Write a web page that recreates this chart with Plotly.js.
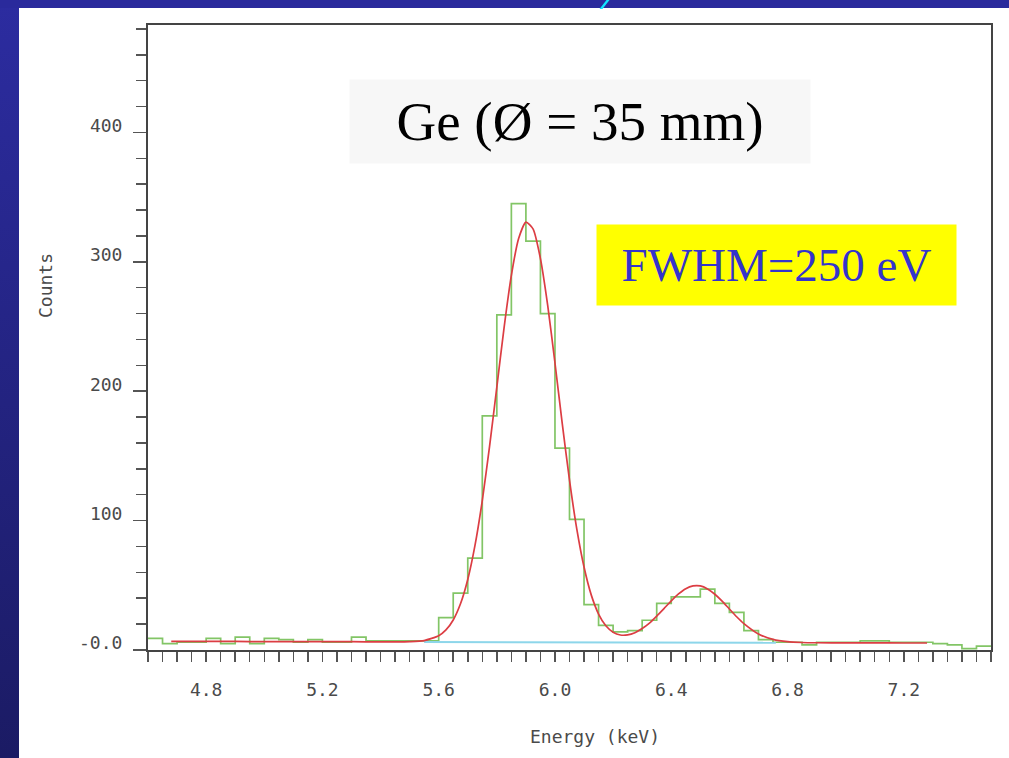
<!DOCTYPE html>
<html>
<head>
<meta charset="utf-8">
<script src="https://cdn.plot.ly/plotly-3.0.1.min.js"></script>
<style>
  body { margin: 0; background: #fff; }
  #chart { position: absolute; left: 0; top: 0; width: 1009px; height: 758px; }
  .band-left { position: absolute; left: 0; top: 0; width: 19px; height: 758px; z-index: 5;
    background: linear-gradient(#2c2ca0, #1b1b64); }
  .band-top { position: absolute; left: 0; top: 0; width: 1009px; height: 8px; z-index: 5; background: #2a2a9c; }
  .cyan-mark { position: absolute; left: 603px; top: 0; width: 3px; height: 9px; z-index: 6;
    background: #12e4ff; transform: skewX(-38deg); }
</style>
</head>
<body>
<div id="chart"></div>
<div class="band-left"></div>
<div class="band-top"></div>
<div class="cyan-mark"></div>
<script>
// histogram: 0.05 keV bins starting at 4.6 keV
const binStart = 4.6
const binWidth = 0.05
const counts = [
  9, 5, 6, 6, 9, 5, 10, 5, 9, 8,
  6, 8, 6, 6, 10, 7, 7, 7, 7, 7,
  25, 44, 71, 181, 259, 345, 316, 260, 156, 101,
  35, 19, 14, 15, 23, 36, 41, 41, 47, 36,
  29, 15, 8, 6, 6, 4, 6, 6, 6, 7,
  7, 6, 6, 6, 5, 4, 1, 3
]

// fitted curve (red)
const fitEnergy = [
  4.68, 4.8, 4.9, 5.0, 5.1, 5.2, 5.3, 5.4, 5.45, 5.5, 5.55, 5.6, 5.625, 5.65, 5.675,
  5.7, 5.725, 5.75, 5.775, 5.8, 5.825, 5.85, 5.875, 5.9, 5.925, 5.95, 5.975, 6.0,
  6.025, 6.05, 6.075, 6.1, 6.125, 6.15, 6.175, 6.2, 6.225, 6.25, 6.275, 6.3, 6.325,
  6.35, 6.375, 6.4, 6.425, 6.45, 6.475, 6.5, 6.525, 6.55, 6.575, 6.6, 6.625, 6.65,
  6.7, 6.75, 6.8, 6.85, 6.9, 7.0, 7.1, 7.2, 7.28
]
const fitCounts = [
  6.7, 6.6, 6.6, 6.5, 6.5, 6.4, 6.4, 6.3, 6.3, 6.5, 7.3, 11.0, 15.5, 23.2, 35.7,
  54.5, 81.0, 115.5, 157.3, 203.2, 249.2, 289.5, 318.0, 330.7, 325.3, 302.5, 266.3, 221.8,
  175.1, 131.2, 93.6, 64.1, 42.4, 27.8, 18.7, 13.7, 11.6, 11.7, 13.4, 16.6, 20.8,
  26.2, 32.0, 38.0, 43.3, 47.4, 49.5, 49.5, 47.2, 43.1, 37.8, 31.7, 25.7, 20.4,
  12.4, 8.2, 6.4, 5.8, 5.6, 5.5, 5.5, 5.4, 5.4
]

// background line (cyan)
const bgEnergy = [5.55, 6.76]
const bgCounts = [6.1, 5.6]

const yTickVals = [0, 100, 200, 300, 400]
const yTickText = ['-0.0', '100', '200', '300', '400']

const edges = counts.map((c, i) => binStart + i * binWidth)
edges.push(binStart + counts.length * binWidth)
const stepCounts = counts.concat([counts[counts.length - 1]])

const TICK_FONT = { family: 'DejaVu Sans Mono', size: 18, color: '#4a4a4a' }
const TICK_COLOR = '#555'

const traces = [
  {
    x: edges,
    y: stepCounts,
    mode: 'lines',
    type: 'scatter',
    line: { shape: 'hv', color: '#82c566', width: 1.7 },
    hoverinfo: 'skip'
  },
  {
    x: bgEnergy,
    y: bgCounts,
    mode: 'lines',
    type: 'scatter',
    line: { color: '#8dd6ea', width: 2 }
  },
  {
    x: fitEnergy,
    y: fitCounts,
    mode: 'lines',
    type: 'scatter',
    line: { shape: 'spline', smoothing: 0.6, color: '#dc3d43', width: 1.7 }
  }
]

const layout = {
  width: 1009,
  height: 758,
  margin: { l: 148, r: 18, t: 25, b: 108, pad: 0 },
  paper_bgcolor: '#fff',
  plot_bgcolor: '#fff',
  showlegend: false,
  xaxis: {
    range: [4.6, 7.5],
    tickmode: 'linear',
    tick0: 4.8,
    dtick: 0.4,
    tickformat: '.1f',
    ticks: 'outside',
    ticklen: 10,
    tickwidth: 1.5,
    tickcolor: TICK_COLOR,
    ticklabelstandoff: 12,
    tickfont: TICK_FONT,
    showline: true,
    linecolor: '#444',
    linewidth: 2,
    mirror: true,
    showgrid: false,
    zeroline: false,
    minor: { tickmode: 'linear', tick0: 4.6, dtick: 0.05, ticks: 'outside', ticklen: 10, tickwidth: 1.5, tickcolor: TICK_COLOR, showgrid: false }
  },
  yaxis: {
    range: [0, 483],
    tickmode: 'array',
    tickvals: yTickVals,
    ticktext: yTickText,
    ticks: 'outside',
    ticklen: 13,
    tickwidth: 1.5,
    tickcolor: TICK_COLOR,
    ticklabelstandoff: 7,
    ticklabelshift: -7,
    tickfont: TICK_FONT,
    showline: true,
    linecolor: '#444',
    linewidth: 2,
    mirror: true,
    showgrid: false,
    zeroline: false,
    minor: { tickmode: 'linear', tick0: 0, dtick: 20, ticks: 'outside', ticklen: 10, tickwidth: 1.5, tickcolor: TICK_COLOR, showgrid: false }
  },
  annotations: [
    {
      text: 'Energy (keV)',
      xref: 'paper', yref: 'paper', x: 0.530, y: -0.1376,
      xanchor: 'center', yanchor: 'middle', showarrow: false,
      font: TICK_FONT
    },
    {
      text: 'Counts',
      xref: 'paper', yref: 'paper', x: -0.1222, y: 0.584,
      xanchor: 'center', yanchor: 'middle', showarrow: false, textangle: -90,
      font: TICK_FONT
    },
    {
      text: 'Ge (Ø = 35 mm)',
      xref: 'paper', yref: 'paper', x: 0.512, y: 0.845,
      xanchor: 'center', yanchor: 'middle', showarrow: false,
      width: 460, height: 83, borderpad: 0, bgcolor: '#f7f7f7',
      font: { family: 'Liberation Serif', size: 55, color: '#000' }
    },
    {
      text: 'FWHM=250 eV',
      xref: 'paper', yref: 'paper', x: 0.7456, y: 0.616,
      xanchor: 'center', yanchor: 'middle', showarrow: false,
      width: 359, height: 80, borderpad: 0, bgcolor: '#ffff00',
      font: { family: 'Liberation Serif', size: 47, color: '#3434cc' }
    }
  ]
}

Plotly.newPlot('chart', traces, layout, { displayModeBar: false, staticPlot: true })
</script>
</body>
</html>
